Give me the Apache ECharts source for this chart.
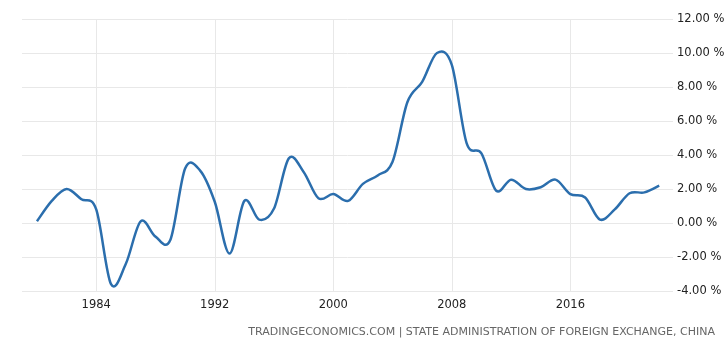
<!DOCTYPE html>
<html>
<head>
<meta charset="utf-8">
<script src="https://cdn.jsdelivr.net/npm/echarts@6/dist/echarts.min.js"></script>
<style>
html,body{margin:0;padding:0;background:#fff}
#chart{width:728px;height:351px}
</style>
</head>
<body>
<div id="chart"></div>
<script>
let years=[]
for(let y=1980;y<=2022;y++){years.push(y)}
// current account to gdp, %
let values=[0.1,1.3,2.0,1.4,0.8,-3.6,-2.4,0.1,-0.8,-1.0,
    3.2,3.1,1.25,-1.8,1.3,0.2,0.85,3.8,3.0,1.45,
    1.7,1.3,2.3,2.8,3.6,7.1,8.3,10.0,9.3,4.7,
    4.1,1.9,2.55,2.0,2.1,2.55,1.7,1.5,0.2,0.8,
    1.75,1.8,2.2]
let xLabels=[1984,1992,2000,2008,2016]
let source="TRADINGECONOMICS.COM | STATE ADMINISTRATION OF FOREIGN EXCHANGE, CHINA"
let seriesData=years.map((y,i)=>[y,values[i]])

// catmull-rom spline through the pixel points
function splinePath(pts){
    let n=pts.length
    let path='M'+pts[0][0]+','+pts[0][1]
    for(let i=0;i<n-1;i++){
        let p0=pts[Math.max(i-1,0)],p1=pts[i],p2=pts[i+1],p3=pts[Math.min(i+2,n-1)]
        let c1=[p1[0]+(p2[0]-p0[0])/6,p1[1]+(p2[1]-p0[1])/6]
        let c2=[p2[0]-(p3[0]-p1[0])/6,p2[1]-(p3[1]-p1[1])/6]
        path+=' C'+c1[0]+','+c1[1]+' '+c2[0]+','+c2[1]+' '+p2[0]+','+p2[1]
    }
    return path
}

let chart=echarts.init(document.getElementById('chart'))
let font="Tahoma, 'DejaVu Sans', sans-serif"
chart.setOption({
    animation:false,
    graphic:[{
        type:'text',
        right:13,
        top:327,
        style:{text:source,fill:'#666',font:"11px "+font}
    }],
    grid:{left:22,right:55,top:19,bottom:60},
    xAxis:{
        type:'value',
        min:1978.99,
        max:2022.93,
        axisLine:{show:false},
        axisTick:{show:false,customValues:xLabels},
        axisLabel:{customValues:xLabels,color:'#222',fontSize:11.5,fontFamily:font,margin:8,formatter:v=>String(v)},
        splitLine:{show:true,lineStyle:{color:'#e8e8e8'}}
    },
    yAxis:{
        type:'value',
        position:'right',
        min:-4,
        max:12,
        interval:2,
        axisLine:{show:false},
        axisTick:{show:false},
        axisLabel:{color:'#222',fontSize:11.5,fontFamily:font,margin:4,formatter:v=>v.toFixed(2)+' %'},
        splitLine:{lineStyle:{color:'#e8e8e8'}}
    },
    series:[{
        type:'custom',
        data:seriesData,
        encode:{x:0,y:1},
        renderItem:function(params,api){
            if(params.dataIndex!==0) return
            let pts=seriesData.map(d=>api.coord(d))
            return {
                type:'path',
                shape:{pathData:splinePath(pts)},
                style:{fill:'none',stroke:'#2b6ead',lineWidth:2.5,lineJoin:'round'}
            }
        }
    }]
})
</script>
</body>
</html>
